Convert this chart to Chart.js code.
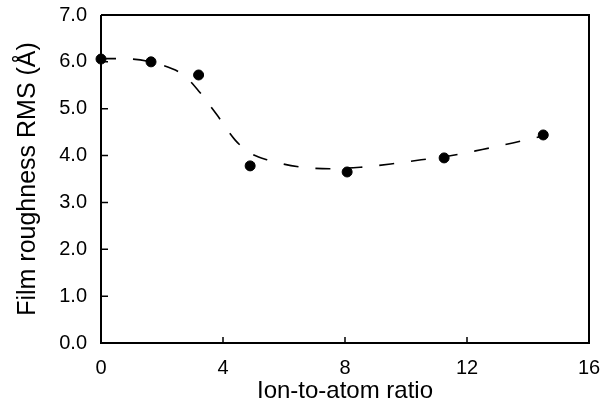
<!DOCTYPE html>
<html>
<head>
<meta charset="utf-8">
<script src="https://cdn.jsdelivr.net/npm/chart.js@4"></script>
<style>
  body { margin: 0; background: #fff; }
  #wrap { width: 608px; height: 403px; }
</style>
</head>
<body>
<div id="wrap"><canvas id="roughness-chart" width="608" height="403"></canvas></div>
<script>
// measured points
const ratioX = [0, 1.64, 3.2, 4.89, 8.07, 11.25, 14.5];
const rmsY = [6.06, 6.0, 5.72, 3.78, 3.65, 3.95, 4.44];

// dashed guide curve
const curveX = [0, 1, 2, 2.7, 3.2, 3.8, 4.4, 4.9, 5.5, 6.5, 7.5, 8.5, 9.5, 10.5, 11.5, 12.5, 13.5, 14.5];
const curveY = [6.07, 6.06, 5.93, 5.72, 5.38, 4.87, 4.33, 4.05, 3.9, 3.76, 3.72, 3.75, 3.82, 3.91, 4.0, 4.13, 4.27, 4.42];

const xTicks = [0, 4, 8, 12, 16];
const yTicks = [0, 1, 2, 3, 4, 5, 6, 7];

const FONT = "'Liberation Sans', Arial, sans-serif";

// frame on top/right plus inward tick marks
const framePlugin = {
    id: 'frame',
    afterDraw(chart) {
        const { ctx, chartArea: a, scales } = chart;
        ctx.save();
        ctx.strokeStyle = '#000';
        ctx.lineWidth = 2;
        ctx.beginPath();
        ctx.moveTo(a.left, a.top);
        ctx.lineTo(a.right, a.top);
        ctx.lineTo(a.right, a.bottom);
        ctx.lineTo(a.left, a.bottom);
        ctx.lineTo(a.left, a.top);
        ctx.stroke();
        ctx.lineWidth = 1.5;
        ctx.beginPath();
        xTicks.forEach(v => {
            const px = scales.x.getPixelForValue(v);
            ctx.moveTo(px, a.bottom);
            ctx.lineTo(px, a.bottom - 6);
        });
        yTicks.forEach(v => {
            const py = scales.y.getPixelForValue(v);
            ctx.moveTo(a.left, py);
            ctx.lineTo(a.left + 7, py);
        });
        ctx.stroke();
        ctx.restore();
    }
};

const ctx = document.getElementById('roughness-chart').getContext('2d');
new Chart(ctx, {
    type: 'scatter',
    data: {
        datasets: [{
            label: 'fit',
            data: curveX.map((x, i) => ({ x: x, y: curveY[i] })),
            showLine: true,
            borderColor: '#000',
            borderWidth: 1.6,
            borderDash: [15, 17],
            cubicInterpolationMode: 'monotone',
            pointRadius: 0,
            fill: false
        }, {
            label: 'RMS',
            data: ratioX.map((x, i) => ({ x: x, y: rmsY[i] })),
            backgroundColor: '#000',
            borderColor: '#000',
            pointRadius: 5,
            pointHoverRadius: 5,
            clip: false
        }]
    },
    options: {
        responsive: false,
        animation: false,
        layout: { padding: { top: 15, right: 19, left: 0, bottom: 0 } },
        plugins: {
            legend: { display: false },
            tooltip: { enabled: false }
        },
        scales: {
            x: {
                type: 'linear',
                min: 0,
                max: 16,
                afterBuildTicks: s => { s.ticks = xTicks.map(v => ({ value: v })); },
                afterFit: s => { s.height = 60; s.paddingLeft = 0; s.paddingRight = 0; },
                grid: { display: false, drawTicks: false },
                border: { display: false },
                ticks: {
                    color: '#000',
                    padding: 13,
                    font: { family: FONT, size: 20 },
                    callback: v => String(v)
                },
                title: {
                    display: true,
                    text: 'Ion-to-atom ratio',
                    color: '#000',
                    padding: { top: 0, bottom: -3 },
                    font: { family: FONT, size: 24 }
                }
            },
            y: {
                min: 0,
                max: 7,
                afterBuildTicks: s => { s.ticks = yTicks.map(v => ({ value: v })); },
                afterFit: s => { s.width = 101; s.paddingTop = 0; s.paddingBottom = 0; },
                grid: { display: false, drawTicks: false },
                border: { display: false },
                ticks: {
                    color: '#000',
                    padding: 14,
                    font: { family: FONT, size: 20 },
                    callback: v => v.toFixed(1)
                },
                title: {
                    display: true,
                    text: 'Film roughness RMS (Å)',
                    color: '#000',
                    padding: { top: 13, bottom: 0 },
                    font: { family: FONT, size: 25 }
                }
            }
        }
    },
    plugins: [framePlugin]
});
</script>
</body>
</html>
